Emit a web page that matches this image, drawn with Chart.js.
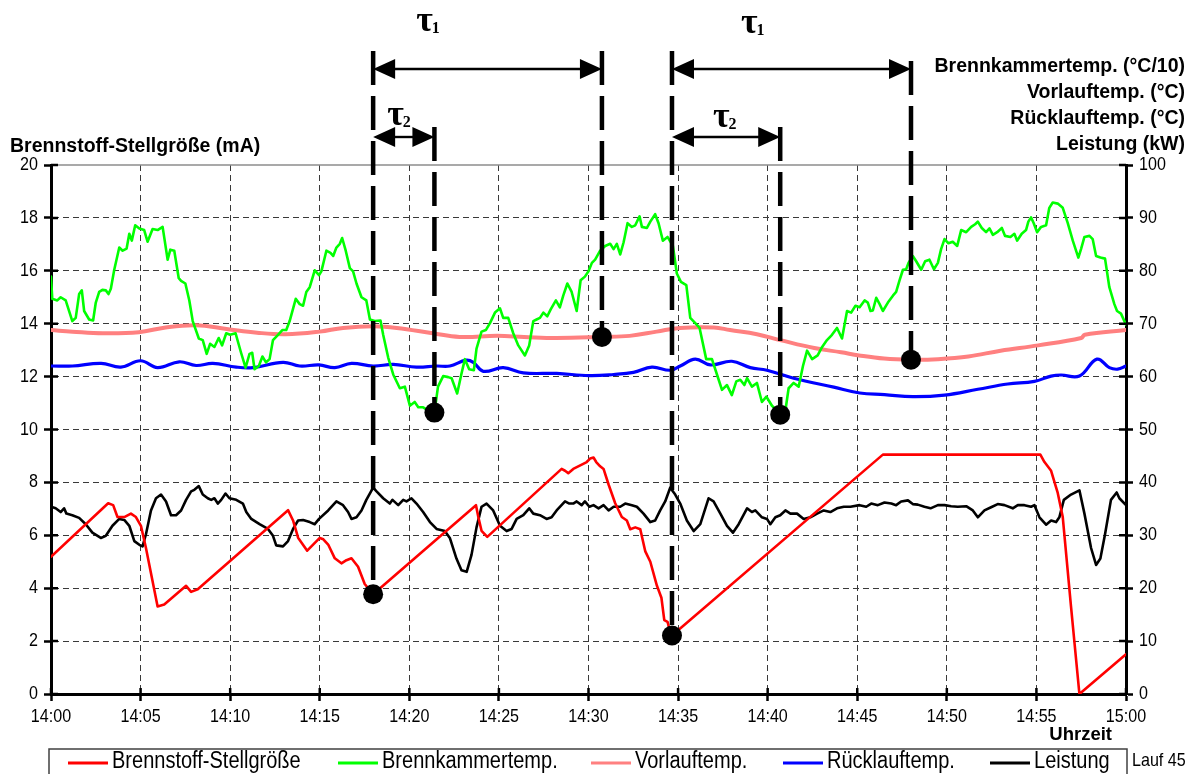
<!DOCTYPE html>
<html lang="de">
<head>
<meta charset="utf-8">
<title>Lauf 45</title>
<script src="https://cdn.jsdelivr.net/npm/chart.js@4.4.1/dist/chart.umd.min.js"></script>
<style>
  html, body { margin: 0; padding: 0; background: #fff; }
  canvas { display: block; }
</style>
</head>
<body>
<canvas id="chart" width="1192" height="774"></canvas>
<script>
// Time axis: minutes after 14:00
const xTickLabels = ['14:00', '14:05', '14:10', '14:15', '14:20', '14:25', '14:30',
                     '14:35', '14:40', '14:45', '14:50', '14:55', '15:00'];

const seriesLabels = ['Brennstoff-Stellgröße', 'Brennkammertemp.', 'Vorlauftemp.',
                      'Rücklauftemp.', 'Leistung'];

const leftTitle = 'Brennstoff-Stellgröße (mA)';
const rightTitles = ['Brennkammertemp. (°C/10)', 'Vorlauftemp. (°C)',
                     'Rücklauftemp. (°C)', 'Leistung (kW)'];
const xTitle = 'Uhrzeit';
const runLabel = 'Lauf 45';

// Brennstoff-Stellgröße (mA, left axis)
const fuelT = [0, 3.19, 3.47, 3.71, 4.09, 4.46, 4.74, 5.02, 5.3, 5.95, 6.32, 7.54, 7.82, 8.19,
  13.23, 13.51, 13.79, 14.3, 15.0, 15.2, 15.47, 15.84, 16.21, 16.49, 16.77, 17.14, 17.51, 17.98,
  23.72, 23.85, 24.03, 24.35, 28.5, 28.69, 28.87, 29.15, 29.9, 30.09, 30.28, 30.43, 30.65,
  30.84, 31.12, 31.49, 31.86, 32.14, 32.33, 32.61, 32.89, 33.17, 33.45, 33.82, 34.07, 34.23,
  34.41, 34.56, 34.66, 46.43, 55.22, 55.45, 55.82, 56.19, 56.47, 56.93, 57.4, 60];
const fuelV = [5.19, 7.21, 7.14, 6.69, 6.69, 6.82, 6.69, 6.36, 5.52, 3.31, 3.38, 4.09, 3.86, 3.96,
  6.95, 6.56, 5.91, 5.42, 5.9, 5.85, 5.65, 5.13, 4.94, 5.06, 5.13, 4.81, 4.16, 3.77,
  7.14, 6.69, 6.17, 5.94, 8.51, 8.44, 8.35, 8.51, 8.77, 8.9, 8.94, 8.77, 8.61,
  8.51, 7.92, 7.21, 6.69, 6.56, 6.23, 6.3, 6.23, 5.39, 5.0, 4.09, 3.64, 2.79,
  2.73, 2.34, 2.21, 9.05, 9.05, 8.77, 8.44, 7.6, 6.69, 3.31, 0.0, 1.5];

// Brennkammertemp. (°C/10, right axis)
const combT = [0, 0.07, 0.35, 0.54, 0.82, 1.19, 1.38, 1.57, 1.72, 1.85, 2.13, 2.35, 2.5, 2.69,
  2.87, 3.06, 3.21, 3.34, 3.53, 3.81, 4.0, 4.22, 4.37, 4.51, 4.7, 4.93, 5.2, 5.39, 5.67, 5.95,
  6.23, 6.51, 6.66, 6.88, 7.13, 7.26, 7.5, 7.72, 7.91, 8.25, 8.47, 8.69, 8.88, 9.12, 9.36, 9.55,
  9.78, 10.0, 10.3, 10.6, 10.86, 11.08, 11.23, 11.36, 11.6, 11.8, 12.0, 12.2, 12.39, 12.67,
  12.91, 13.13, 13.32, 13.66, 13.88, 14.07, 14.25, 14.44, 14.72, 14.96, 15.09, 15.37, 15.6,
  15.75, 15.93, 16.12, 16.25, 16.45, 16.68, 16.86, 17.05, 17.33, 17.6, 17.8, 18.07, 18.39,
  18.54, 18.82, 19.1, 19.47, 19.75, 20.03, 20.3, 20.5, 20.77, 21.05, 21.4, 21.6, 21.89, 22.17,
  22.36, 22.67, 22.9, 23.1, 23.34, 23.6, 23.75, 24.03, 24.27, 24.5, 24.78, 25.06, 25.24, 25.52,
  25.8, 26.08, 26.45, 26.69, 26.92, 27.1, 27.29, 27.48, 27.7, 27.89, 28.18, 28.4, 28.59, 28.82,
  29.06, 29.34, 29.56, 29.8, 30.0, 30.19, 30.37, 30.65, 30.93, 31.21, 31.4, 31.58, 31.77, 31.96,
  32.18, 32.42, 32.61, 32.85, 32.98, 33.26, 33.45, 33.72, 33.91, 34.15, 34.41, 34.71, 34.93,
  35.16, 35.46, 35.68, 35.96, 36.2, 36.57, 36.89, 37.17, 37.45, 37.73, 38.0, 38.25, 38.47,
  38.7, 38.85, 39.12, 39.4, 39.68, 39.93, 40.24, 40.52, 40.7, 40.99, 41.17, 41.45, 41.73, 41.97,
  42.2, 42.48, 42.79, 43.04, 43.31, 43.59, 43.87, 44.15, 44.43, 44.66, 44.9, 45.13, 45.41,
  45.59, 45.74, 45.87, 46.06, 46.25, 46.43, 46.71, 46.99, 47.17, 47.36, 47.55, 47.73, 47.86,
  48.1, 48.29, 48.57, 48.79, 49.03, 49.28, 49.5, 49.68, 49.87, 50.09, 50.33, 50.58, 50.8, 51.08,
  51.36, 51.58, 51.73, 51.95, 52.19, 52.38, 52.57, 52.81, 53.07, 53.25, 53.55, 53.77, 53.92,
  54.18, 54.42, 54.55, 54.7, 54.85, 55.04, 55.26, 55.54, 55.72, 55.91, 56.19, 56.47, 56.75,
  57.03, 57.34, 57.49, 57.68, 57.96, 58.14, 58.33, 58.57, 58.83, 59.07, 59.35, 59.5, 59.72, 60];
const combV = [78.9, 74.7, 74.4, 75.0, 74.4, 70.5, 71.1, 75.6, 76.3, 72.4, 70.8, 70.6, 74.0, 76.0,
  76.4, 76.3, 75.6, 76.6, 80.2, 84.4, 83.8, 84.2, 87.0, 85.7, 88.6, 88.0, 87.7, 85.5, 87.9, 87.7,
  88.3, 82.1, 84.0, 83.8, 78.6, 78.1, 77.6, 74.4, 70.5, 67.2, 66.9, 64.3, 66.2, 65.6, 67.3, 65.9,
  68.2, 67.9, 68.2, 64.6, 61.7, 64.3, 64.5, 61.4, 62.0, 63.8, 62.7, 63.3, 66.9, 67.9,
  68.8, 68.8, 70.5, 74.7, 73.7, 73.4, 76.0, 76.9, 80.1, 79.2, 79.9, 83.8, 83.4,
  82.8, 84.4, 85.1, 86.2, 83.8, 80.5, 79.9, 77.6, 75.0, 74.4, 70.8, 70.5, 70.6,
  67.9, 63.6, 60.4, 57.8, 58.1, 54.5, 55.2, 54.2, 54.2, 53.6, 53.2, 58.1, 60.1, 59.9,
  59.7, 56.8, 60.4, 63.3, 61.4, 61.2, 65.3, 68.5, 68.8, 70.1, 72.1, 72.9, 71.1, 71.1,
  68.2, 65.9, 64.0, 65.9, 70.5, 70.8, 71.1, 72.1, 71.4, 72.7, 74.4, 73.1, 75.3, 77.6,
  76.0, 72.4, 78.2, 78.9, 79.9, 81.5, 82.1, 83.8, 84.7, 85.1, 84.1, 85.1, 83.1, 85.4,
  89.0, 88.3, 88.6, 90.3, 88.3, 88.1, 89.3, 90.7, 89.0, 85.7, 86.4, 84.7, 79.5,
  77.9, 77.3, 71.1, 70.1, 69.2, 63.3, 63.3, 60.4, 57.5, 58.4, 56.5, 59.1, 59.4,
  58.4, 59.7, 58.1, 58.8, 55.2, 56.2, 54.5, 53.6, 52.8, 53.6, 57.8, 58.8, 58.1, 62.0,
  64.9, 63.3, 64.0, 65.6, 66.9, 67.9, 69.2, 67.2, 72.4, 72.1, 73.4, 73.1, 74.4,
  74.0, 72.4, 72.5, 74.9, 73.7, 72.4, 74.0, 75.3, 76.0, 78.2, 80.2, 80.3, 81.5,
  82.8, 81.8, 80.2, 81.8, 82.1, 80.3, 81.5, 84.1, 86.0, 85.2, 85.5, 84.7, 87.7, 87.3,
  88.3, 88.8, 89.3, 88.1, 87.3, 88.0, 86.8, 87.3, 88.1, 86.6, 86.4, 87.0, 85.7,
  87.0, 87.7, 89.3, 90.1, 89.0, 87.3, 88.3, 88.6, 91.9, 92.9, 92.7, 91.9, 89.0,
  85.7, 82.5, 84.1, 86.4, 86.6, 86.0, 82.8, 82.5, 82.3, 76.9, 73.7, 72.4, 71.9, 69.8];

// Vorlauftemp. (°C, right axis)
const flowT = [0, 1.2, 2.9, 4.9, 6.4, 8.1, 9.8, 11.5, 13.1, 15.0, 16.3, 18.0, 19.3, 21.3, 22.8,
  24.9, 26.4, 28.2, 30.75, 32.3, 33.8, 35.1, 37.0, 37.9, 39.4, 40.7, 42.6, 44.1, 45.1, 46.5,
  48.0, 49.5, 51.2, 53.0, 55.1, 57.5, 57.7, 60];
const flowV = [68.8, 68.5, 68.2, 68.4, 69.3, 69.7, 69.0, 68.3, 68.0, 68.5, 69.2, 69.5, 69.2, 68.2,
  67.5, 67.7, 67.5, 67.3, 67.5, 67.7, 68.5, 69.2, 69.3, 68.8, 68.0, 66.9, 65.4, 64.6, 64.0, 63.4,
  63.2, 63.3, 63.8, 64.9, 65.9, 67.3, 67.9, 68.8];

// Rücklauftemp. (°C, right axis)
const retT = [0, 1.2, 2.8, 3.9, 5.0, 5.95, 7.16, 8.1, 9.03, 10.34, 11.27, 12.95, 13.88, 14.96,
  15.84, 16.77, 17.98, 19.1, 20.4, 21.52, 22.26, 23.16, 23.57, 24.13, 25.24, 26.36, 28.22, 30.05,
  31.4, 32.51, 33.54, 34.56, 35.12, 35.96, 36.8, 38.0, 39.03, 39.96, 41.45, 43.69, 45.14, 46.52,
  48.1, 49.87, 51.73, 53.4, 54.89, 55.82, 56.38, 57.4, 58.38, 59.07, 59.54, 60];
const retV = [62.0, 62.0, 62.5, 61.8, 63.0, 61.7, 62.8, 62.1, 62.5, 61.8, 61.7, 62.7, 62.0, 62.2,
  61.7, 62.5, 62.0, 62.3, 61.8, 62.0, 62.0, 63.1, 62.7, 61.0, 61.7, 60.7, 60.6, 60.2,
  60.4, 60.8, 61.8, 61.2, 62.0, 63.3, 62.2, 62.9, 61.7, 61.2, 59.7, 58.0, 56.9, 56.6,
  56.2, 56.5, 57.6, 58.6, 59.1, 60.1, 60.3, 60.1, 63.3, 61.7, 61.4, 62.0];

// Leistung (kW, right axis)
const powerT = [0, 0.26, 0.54, 0.73, 0.86, 1.19, 1.57, 1.94, 2.31, 2.78, 3.06, 3.43, 3.81, 4.09,
  4.37, 4.65, 4.93, 5.11, 5.3, 5.58, 5.86, 6.14, 6.42, 6.7, 6.98, 7.26, 7.54, 7.82, 8.0, 8.25,
  8.47, 8.75, 8.94, 9.12, 9.31, 9.5, 9.74, 9.96, 10.34, 10.71, 10.9, 11.18, 11.64, 12.11, 12.39,
  12.57, 12.95, 13.23, 13.51, 13.79, 14.07, 14.44, 14.72, 14.96, 15.47, 15.93, 16.3, 16.58,
  16.77, 17.05, 17.33, 17.6, 17.98, 18.17, 18.54, 18.91, 19.06, 19.38, 19.66, 19.84, 20.12,
  20.4, 20.77, 21.15, 21.52, 21.98, 22.26, 22.63, 22.91, 23.2, 23.47, 23.75, 24.03, 24.31,
  24.68, 25.06, 25.43, 25.71, 25.99, 26.36, 26.69, 26.92, 27.29, 27.66, 27.94, 28.22, 28.69,
  28.93, 29.15, 29.34, 29.62, 29.8, 30.05, 30.28, 30.56, 30.84, 31.12, 31.4, 31.77, 32.05,
  32.42, 32.7, 33.07, 33.45, 33.72, 34.0, 34.28, 34.56, 34.84, 35.12, 35.49, 35.87, 36.24,
  36.7, 36.98, 37.36, 37.73, 38.06, 38.38, 38.85, 39.12, 39.31, 39.68, 39.96, 40.15, 40.43,
  40.7, 40.99, 41.27, 41.64, 42.01, 42.38, 42.76, 43.13, 43.5, 43.87, 44.25, 44.62, 45.13,
  45.5, 45.78, 46.15, 46.52, 46.9, 47.17, 47.45, 47.83, 48.1, 48.38, 48.75, 49.09, 49.5,
  49.87, 50.24, 50.61, 51.08, 51.45, 51.73, 52.1, 52.47, 52.84, 53.22, 53.68, 53.96, 54.33,
  54.7, 54.89, 55.17, 55.54, 55.82, 56.1, 56.28, 56.53, 56.93, 57.4, 57.68, 58.05, 58.33,
  58.57, 58.83, 59.16, 59.48, 59.63, 60];
const powerV = [35.4, 35.1, 34.4, 35.1, 34.1, 33.8, 33.3, 32.1, 30.5, 29.5, 29.9, 31.8, 33.1, 32.9,
  31.8, 28.9, 28.2, 27.9, 30.2, 34.7, 37.0, 37.7, 36.4, 33.8, 33.8, 34.7, 36.7, 38.3, 38.6, 39.3,
  37.7, 37.0, 36.7, 37.0, 36.0, 36.7, 37.9, 37.0, 36.7, 36.0, 34.4, 33.1, 32.1, 31.2, 29.9,
  28.1, 27.9, 28.9, 31.2, 32.8, 32.9, 32.5, 32.1, 33.1, 34.7, 36.4, 35.7, 34.4,
  33.1, 33.4, 34.7, 36.7, 39.0, 38.3, 37.0, 36.0, 36.7, 35.7, 36.7, 36.4, 37.0,
  36.0, 34.4, 32.5, 31.2, 30.8, 29.5, 25.6, 23.4, 23.1, 26.3, 31.5, 35.4, 36.0,
  34.7, 31.8, 30.8, 31.2, 33.1, 33.8, 35.1, 34.1, 33.8, 33.1, 33.4, 34.7, 36.4,
  36.0, 36.0, 36.4, 35.7, 36.4, 35.4, 35.7, 35.1, 35.7, 34.7, 35.4, 35.4, 36.0,
  35.7, 35.4, 34.1, 32.5, 32.8, 34.7, 36.4, 39.0, 37.7, 36.0, 32.8, 30.8, 32.1,
  37.0, 36.4, 34.1, 31.8, 30.5, 32.1, 35.1, 34.4, 34.7, 33.4, 33.1, 32.1, 33.4,
  33.8, 34.7, 34.1, 34.1, 33.1, 33.4, 34.1, 34.7, 34.4, 35.1, 35.4, 35.4, 35.7,
  35.4, 36.0, 35.7, 36.2, 36.0, 35.7, 36.4, 36.6, 35.9, 35.8, 35.4, 35.1, 35.7,
  35.7, 35.5, 35.4, 35.5, 34.7, 33.4, 34.7, 35.3, 35.9, 35.7, 35.1, 35.7, 35.7,
  35.4, 35.7, 33.4, 32.0, 32.8, 32.5, 33.4, 36.7, 37.7, 38.5, 34.1, 27.6, 24.4,
  25.6, 30.2, 36.7, 38.1, 37.0, 35.7];

// Reference instants for the dead-time markers (minutes after 14:00) and the curve each sits on
const markerT = [17.98, 21.4, 30.75, 34.66, 40.7, 48.0];
const markerSeries = ['fuel', 'comb', 'flow', 'fuel', 'comb', 'flow'];

const pts = (t, v) => t.map((x, i) => ({ x: x, y: v[i] }));
const seriesData = { fuel: [fuelT, fuelV], comb: [combT, combV], flow: [flowT, flowV] };
const markerValue = i => {
  const [t, v] = seriesData[markerSeries[i]];
  return v[t.indexOf(markerT[i])];
};
const markerAxis = i => (markerSeries[i] === 'fuel' ? 'yL' : 'yR');
const markerIdx = markerT.map((_, i) => i);
const dotsLeft = markerIdx.filter(i => markerAxis(i) === 'yL').map(i => ({ x: markerT[i], y: markerValue(i) }));
const dotsRight = markerIdx.filter(i => markerAxis(i) === 'yR').map(i => ({ x: markerT[i], y: markerValue(i) }));

const SANS = '"Liberation Sans", Arial, sans-serif';
const SERIF = '"Liberation Serif", "Times New Roman", serif';
const NARROW = 0.87;

// Regular-weight labels are set slightly condensed
const narrowText = {
  id: 'narrowText',
  beforeInit(chart) {
    const ctx = chart.ctx;
    const plain = ctx.fillText;
    ctx.fillText = function (text, x, y) {
      if (/bold/.test(this.font)) return plain.call(this, text, x, y);
      this.save();
      this.translate(x, y);
      this.scale(NARROW, 1);
      plain.call(this, text, 0, 0);
      this.restore();
    };
  }
};

function arrow(ctx, x1, x2, y) {
  const L = 22, H = 10;
  ctx.save();
  ctx.strokeStyle = '#000';
  ctx.fillStyle = '#000';
  ctx.lineWidth = 2.4;
  ctx.setLineDash([]);
  ctx.beginPath();
  ctx.moveTo(x1 + L - 2, y);
  ctx.lineTo(x2 - L + 2, y);
  ctx.stroke();
  ctx.beginPath();
  ctx.moveTo(x1, y); ctx.lineTo(x1 + L, y - H); ctx.lineTo(x1 + L, y + H); ctx.closePath();
  ctx.moveTo(x2, y); ctx.lineTo(x2 - L, y - H); ctx.lineTo(x2 - L, y + H); ctx.closePath();
  ctx.fill();
  ctx.restore();
}

function tau(ctx, sub, x, y) {
  ctx.save();
  ctx.fillStyle = '#000';
  ctx.textAlign = 'left';
  ctx.textBaseline = 'alphabetic';
  ctx.font = 'bold 36px ' + SERIF;
  ctx.fillText('τ', x, y);
  const w = ctx.measureText('τ').width;
  ctx.font = 'bold 16px ' + SERIF;
  ctx.fillText(sub, x + w - 1, y + 2);
  ctx.restore();
}

// Dead-time annotations, axis titles, inner tick marks and the framed legend
const overlay = {
  id: 'overlay',
  afterDraw(chart) {
    const ctx = chart.ctx;
    const xs = chart.scales.x, yL = chart.scales.yL, yR = chart.scales.yR;
    const area = chart.chartArea;

    // top frame line of the plot area
    ctx.save();
    ctx.strokeStyle = '#8c8c8c';
    ctx.lineWidth = 1.5;
    ctx.beginPath();
    ctx.moveTo(area.left, area.top);
    ctx.lineTo(area.right, area.top);
    ctx.stroke();

    // tick marks reaching into the plot
    ctx.strokeStyle = '#000';
    ctx.lineWidth = 2.5;
    ctx.beginPath();
    yL.ticks.forEach(t => { const y = yL.getPixelForValue(t.value); ctx.moveTo(area.left, y); ctx.lineTo(area.left + 7, y); });
    yR.ticks.forEach(t => { const y = yR.getPixelForValue(t.value); ctx.moveTo(area.right, y); ctx.lineTo(area.right - 7, y); });
    xs.ticks.forEach(t => { const x = xs.getPixelForValue(t.value); ctx.moveTo(x, area.bottom); ctx.lineTo(x, area.bottom - 6); });
    ctx.stroke();
    ctx.restore();

    // vertical dashed marker lines, from the dot up to the arrow level
    const markerTop = [51, 127, 51, 51, 127, 61];
    const mx = markerIdx.map(i => xs.getPixelForValue(markerT[i]));
    const my = markerIdx.map(i => chart.scales[markerAxis(i)].getPixelForValue(markerValue(i)));
    ctx.save();
    ctx.strokeStyle = '#000';
    ctx.lineWidth = 4.5;
    ctx.lineCap = 'butt';
    ctx.setLineDash([34, 11]);
    markerIdx.forEach(i => {
      ctx.beginPath();
      ctx.moveTo(mx[i], markerTop[i]);
      ctx.lineTo(mx[i], my[i]);
      ctx.stroke();
    });
    ctx.restore();

    // dead-time arrows
    arrow(ctx, mx[0], mx[2], 69);
    arrow(ctx, mx[0], mx[1], 137);
    arrow(ctx, mx[3], mx[5], 69);
    arrow(ctx, mx[3], mx[4], 137);
    tau(ctx, '1', mx[0] + 43, 31);
    tau(ctx, '2', mx[0] + 14, 125);
    tau(ctx, '1', mx[3] + 69, 33);
    tau(ctx, '2', mx[3] + 41, 127);

    // axis titles
    ctx.save();
    ctx.fillStyle = '#000';
    ctx.textBaseline = 'middle';
    ctx.font = 'bold 19.5px ' + SANS;
    ctx.textAlign = 'left';
    ctx.fillText(leftTitle, 10, 147);
    ctx.textAlign = 'right';
    const rY = [67, 93, 119, 145];
    rightTitles.forEach((s, i) => ctx.fillText(s, 1185, rY[i]));
    ctx.font = 'bold 18.5px ' + SANS;
    ctx.fillText(xTitle, 1112, 735);

    // legend frame and entries
    ctx.strokeStyle = '#404040';
    ctx.lineWidth = 1.5;
    ctx.strokeRect(49, 749, 1078, 60);
    const legX = [68, 338, 591, 783, 990];
    ctx.textAlign = 'left';
    ctx.font = '23px ' + SANS;
    chart.data.datasets.slice(0, 5).forEach((ds, i) => {
      ctx.strokeStyle = ds.borderColor;
      ctx.lineWidth = 3;
      ctx.beginPath();
      ctx.moveTo(legX[i], 763);
      ctx.lineTo(legX[i] + 40, 763);
      ctx.stroke();
      ctx.fillText(ds.label, legX[i] + 44, 762);
    });
    ctx.font = '18.5px ' + SANS;
    ctx.fillText(runLabel, 1132, 761);
    ctx.restore();
  }
};

const gridColor = c => (c.tick && (c.tick.value === c.scale.max) ? 'rgba(0,0,0,0)' : '#3a3a3a');

new Chart(document.getElementById('chart'), {
  type: 'line',
  data: {
    datasets: [
      { label: seriesLabels[0], data: pts(fuelT, fuelV), yAxisID: 'yL', borderColor: '#ff0000', borderWidth: 2.6, order: 1 },
      { label: seriesLabels[1], data: pts(combT, combV), yAxisID: 'yR', borderColor: '#00ff00', borderWidth: 2.6, order: 1 },
      { label: seriesLabels[2], data: pts(flowT, flowV), yAxisID: 'yR', borderColor: '#ff8080', borderWidth: 4, tension: 0.4, order: 1 },
      { label: seriesLabels[3], data: pts(retT, retV), yAxisID: 'yR', borderColor: '#0000ff', borderWidth: 3.2, tension: 0.4, order: 1 },
      { label: seriesLabels[4], data: pts(powerT, powerV), yAxisID: 'yR', borderColor: '#000000', borderWidth: 2.6, order: 1 },
      { label: 'markerL', data: dotsLeft, yAxisID: 'yL', showLine: false, pointRadius: 10,
        pointBackgroundColor: '#000', pointBorderColor: '#000', pointBorderWidth: 0, order: 0 },
      { label: 'markerR', data: dotsRight, yAxisID: 'yR', showLine: false, pointRadius: 10,
        pointBackgroundColor: '#000', pointBorderColor: '#000', pointBorderWidth: 0, order: 0 }
    ]
  },
  options: {
    responsive: false,
    devicePixelRatio: 1,
    animation: false,
    events: [],
    layout: { padding: { top: 165, left: 0, right: 0, bottom: 0 } },
    elements: {
      line: { tension: 0, borderJoinStyle: 'round', borderCapStyle: 'round', fill: false },
      point: { radius: 0 }
    },
    plugins: { legend: { display: false }, tooltip: { enabled: false } },
    scales: {
      x: {
        type: 'linear', min: 0, max: 60,
        afterFit: s => { s.height = 80; },
        ticks: {
          stepSize: 5, autoSkip: false, maxRotation: 0, padding: 5, color: '#000',
          font: { family: SANS, size: 18.5 },
          callback: v => xTickLabels[Math.round(v / 5)]
        },
        grid: { color: '#3a3a3a', lineWidth: 1, drawTicks: true, tickLength: 7, tickWidth: 2.5,
                tickColor: '#000', tickBorderDash: [] },
        border: { display: true, color: '#000', width: 3, dash: [6, 4] }
      },
      yL: {
        type: 'linear', position: 'left', min: 0, max: 20,
        afterFit: s => { s.width = 51; },
        ticks: { stepSize: 2, padding: 6, color: '#000', font: { family: SANS, size: 18.5 } },
        grid: { color: gridColor, lineWidth: 1, drawTicks: true, tickLength: 7, tickWidth: 2.5,
                tickColor: '#000', tickBorderDash: [] },
        border: { display: true, color: '#000', width: 3, dash: [6, 4] }
      },
      yR: {
        type: 'linear', position: 'right', min: 0, max: 100,
        afterFit: s => { s.width = 66; },
        ticks: { stepSize: 10, padding: 6, color: '#000', font: { family: SANS, size: 18.5 } },
        grid: { drawOnChartArea: false, drawTicks: true, tickLength: 7, tickWidth: 2.5,
                tickColor: '#000', tickBorderDash: [] },
        border: { display: true, color: '#000', width: 3 }
      }
    }
  },
  plugins: [narrowText, overlay]
});
</script>
</body>
</html>
